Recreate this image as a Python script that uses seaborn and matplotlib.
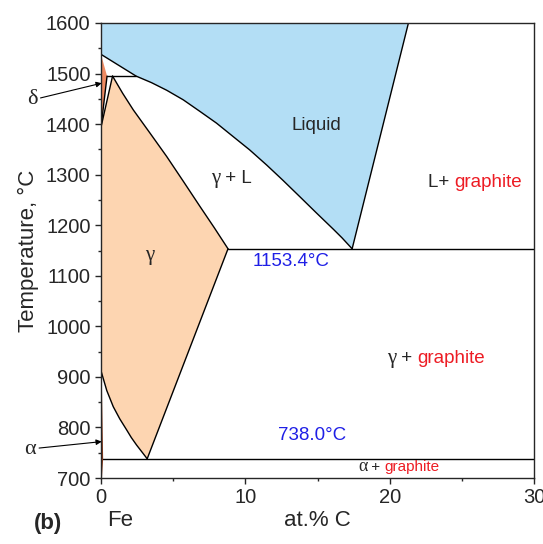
import matplotlib
matplotlib.use("Agg")
import matplotlib.pyplot as plt
import seaborn as sns
import pandas as pd

# ---------------- data (at.% C, temperature in °C) ----------------
liquidus_x = [0, 2.43, 3.5, 4.55, 5.7, 6.86, 8.0, 9.17, 10.3, 11.48, 12.6,
              13.79, 14.9, 16.10, 16.7, 17.4]
liquidus_T = [1538, 1495, 1482, 1467, 1448, 1425, 1402, 1375, 1349, 1319, 1289,
              1256, 1225, 1192, 1175, 1153.4]

graphite_liq_x = [17.4, 21.3]
graphite_liq_T = [1153.4, 1600]

solidus_x = [0.8, 1.5, 2.24, 3.4, 4.55, 5.7, 6.86, 7.85, 8.8]
solidus_T = [1495, 1461, 1428, 1382, 1336, 1287, 1237, 1195, 1153.4]

acm_x = [8.8, 3.2]
acm_T = [1153.4, 738]

a3_x = [3.2, 2.85, 2.47, 2.1, 1.78, 1.3, 0.85, 0.4, 0]
a3_T = [738, 751, 765, 780, 795, 817, 841, 873, 912]

delta_x = [0, 0.42, 0]
delta_T = [1538, 1495, 1394]

dg_x = [0.8, 0]          # delta+gamma / gamma boundary
dg_T = [1495, 1394]

alpha_x = [0, 0.1, 0.02, 0]
alpha_T = [912, 738, 700, 700]

peritectic_x = [0.42, 2.43]
peritectic_T = 1495
eutectic_x = [8.8, 30]
eutectic_T = 1153.4
eutectoid_x = [0.1, 30]
eutectoid_T = 738.0

x_ticks = [0, 10, 20, 30]
y_ticks = [700, 800, 900, 1000, 1100, 1200, 1300, 1400, 1500, 1600]

# ---------------- style ----------------
sns.set_style("ticks")
plt.rcParams["font.family"] = ["Liberation Sans", "DejaVu Sans"]
SERIF = ["Liberation Serif", "DejaVu Serif"]

BLUE_FILL = "#B3DEF5"
GAMMA_FILL = "#FDD5B1"
DELTA_FILL = "#EE8A62"
RED = "#ED1C24"
BLUE_TXT = "#1F1FE6"

fig = plt.figure(figsize=(5.43, 5.44), dpi=100)
ax = fig.add_axes([101 / 543, 1 - 478 / 544, 433 / 543, 455 / 544])

# ---------------- filled phase regions ----------------
liq_poly_x = liquidus_x + [graphite_liq_x[1], 0]
liq_poly_T = liquidus_T + [graphite_liq_T[1], 1600]
ax.fill(liq_poly_x, liq_poly_T, color=BLUE_FILL, lw=0, zorder=1)

gam_poly_x = solidus_x + acm_x[1:] + a3_x[1:] + [0]
gam_poly_T = solidus_T + acm_T[1:] + a3_T[1:] + [1394]
ax.fill(gam_poly_x, gam_poly_T, color=GAMMA_FILL, lw=0, zorder=1)

ax.fill(delta_x, delta_T, color=DELTA_FILL, lw=0, zorder=1)
ax.fill(alpha_x, alpha_T, color=DELTA_FILL, lw=0, zorder=1)

# ---------------- boundary lines ----------------
segs = []
def add(name, xs, ts):
    for x, t in zip(xs, ts):
        segs.append({"seg": name, "x": x, "T": t})

add("liquidus", liquidus_x, liquidus_T)
add("graphite_liq", graphite_liq_x, graphite_liq_T)
add("solidus", solidus_x, solidus_T)
add("acm", acm_x, acm_T)
add("a3", a3_x, a3_T)
add("delta", delta_x[1:], delta_T[1:])
add("dg", dg_x, dg_T)
add("peritectic", peritectic_x, [peritectic_T] * 2)
add("eutectic", eutectic_x, [eutectic_T] * 2)
add("eutectoid", eutectoid_x, [eutectoid_T] * 2)
df = pd.DataFrame(segs)

sns.lineplot(data=df, x="x", y="T", units="seg", estimator=None, sort=False,
             color="black", lw=1.0, ax=ax, zorder=3, legend=False)

# alpha strip boundary (brownish)
ax.plot(alpha_x[:3], alpha_T[:3], color="#8B3A1A", lw=1.0, zorder=3)

# ---------------- axes ----------------
ax.set_xlim(0, 30)
ax.set_ylim(700, 1600)
ax.set_xticks(x_ticks)
ax.set_yticks(y_ticks)
ax.set_xticks([5, 15, 25], minor=True)
ax.set_yticks([750, 850, 950, 1050, 1150, 1250, 1350, 1450, 1550], minor=True)
ax.tick_params(which="major", direction="out", length=4.5, width=1.0,
               labelsize=14.5, pad=3)
ax.tick_params(which="minor", direction="out", length=2.5, width=1.0)
for s in ax.spines.values():
    s.set_visible(True)
    s.set_linewidth(1.0)
    s.set_zorder(5)

ax.set_xlabel("at.% C", fontsize=16)
ax.set_ylabel("Temperature, °C", fontsize=16)
ax.xaxis.set_label_coords(0.5, (478 - 510) / 455)
ax.xaxis.label.set_va("top")
ax.yaxis.set_label_coords((28 - 101) / 433, 0.5)
ax.yaxis.label.set_va("center")

# ---------------- labels in the diagram ----------------
ax.text(14.9, 1398, "Liquid", fontsize=13.5, ha="center", va="center", zorder=6)

t = ax.text(7.6, 1293, "γ", fontsize=15, family=SERIF, ha="left", va="center", zorder=6)
ax.annotate(" + L", xy=(1, 0.5), xycoords=t, fontsize=13.5, ha="left", va="center", zorder=6)

t = ax.text(22.66, 1284, "L+ ", fontsize=13.5, ha="left", va="center", zorder=6)
ax.annotate("graphite", xy=(1, 0.5), xycoords=t, fontsize=13.5, color=RED,
            ha="left", va="center", zorder=6)

ax.text(3.35, 1140, "γ", fontsize=15, family=SERIF, ha="center", va="center", zorder=6)
ax.text(13.15, 1128, "1153.4°C", fontsize=13.5, color=BLUE_TXT, ha="center", va="center", zorder=6)

t = ax.text(19.8, 937, "γ", fontsize=15, family=SERIF, ha="left", va="center", zorder=6)
t2 = ax.annotate(" + ", xy=(1, 0.5), xycoords=t, fontsize=13.5, ha="left", va="center", zorder=6)
ax.annotate("graphite", xy=(1, 0.5), xycoords=t2, fontsize=13.5, color=RED,
            ha="left", va="center", zorder=6)

ax.text(14.6, 785, "738.0°C", fontsize=13.5, color=BLUE_TXT, ha="center", va="center", zorder=6)

t = ax.text(17.8, 722, "α", fontsize=13, family=SERIF, ha="left", va="center", zorder=6)
t2 = ax.annotate(" + ", xy=(1, 0.5), xycoords=t, fontsize=11, ha="left", va="center", zorder=6)
ax.annotate("graphite", xy=(1, 0.5), xycoords=t2, fontsize=11, color=RED,
            ha="left", va="center", zorder=6)

# arrows for delta and alpha
arrow = dict(arrowstyle="-|>", color="black", lw=0.8, mutation_scale=8,
             shrinkA=0, shrinkB=0)
ax.annotate("δ", xy=(0.05, 1481), xycoords="data",
            xytext=((32 - 101) / 433, (478 - 100) / 455), textcoords="axes fraction",
            fontsize=16, family=SERIF, ha="center", va="center",
            arrowprops=arrow, annotation_clip=False, zorder=6)
ax.annotate("α", xy=(0.05, 772), xycoords="data",
            xytext=((30 - 101) / 433, (478 - 449) / 455), textcoords="axes fraction",
            fontsize=16, family=SERIF, ha="center", va="center",
            arrowprops=arrow, annotation_clip=False, zorder=6)

fig.text(120 / 543, 1 - 521 / 544, "Fe", fontsize=16, ha="center", va="center")
fig.text(48 / 543, 1 - 524 / 544, "(b)", fontsize=16, fontweight="bold",
         ha="center", va="center")

fig.savefig("out.png", dpi=100)
